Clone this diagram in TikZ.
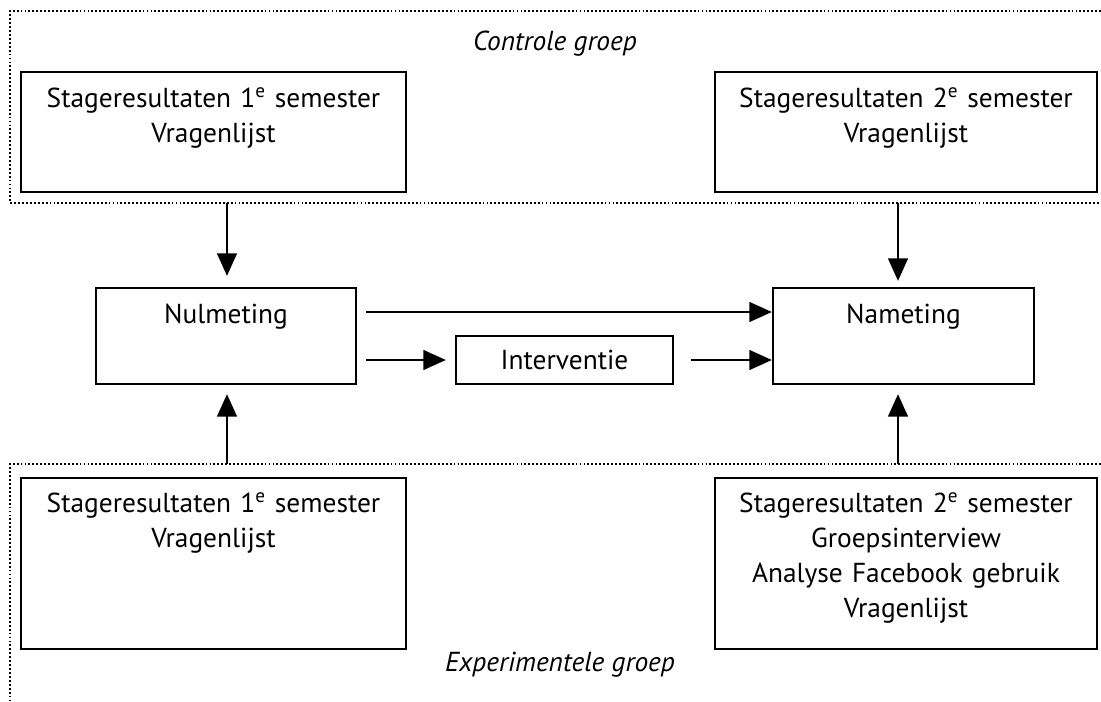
\documentclass[tikz,border=0pt]{standalone}
\usepackage{fontspec}
\setmainfont{PT Sans}
\usetikzlibrary{arrows.meta}

\tikzset{
    box/.style={draw, line width=1.6pt, inner sep=0pt},
    boxtext/.style={anchor=base, align=center, inner sep=0pt, text width=9cm,
        font=\fontsize{19.5}{24.9}\selectfont},
    groep/.style={font=\fontsize{19.5}{24}\selectfont\itshape},
    frame/.style={line width=1.4pt, dash pattern=on 1.3pt off 1.5pt},
}

\begin{document}
\begin{tikzpicture}[>={Triangle[length=16pt,width=14pt]}, line width=1.6pt]
        \useasboundingbox (0,0) rectangle (27.525,-17.55);

        % Controle groep (dotted frame, open at the right)
        \draw[frame] (27.525,-0.275) -- (0.25,-0.275) -- (0.25,-5.075) -- (27.525,-5.075);
        \node[groep] (ctrl) at (13.875,-1.1) {Controle groep};

        % Experimentele groep (dotted frame, open at right and bottom)
        \draw[frame] (27.525,-11.6) -- (0.25,-11.6) -- (0.25,-17.55);
        \node[groep] (exp) at (14.0,-16.625) {Experimentele groep};

        % Data boxes
        \node[box, minimum width=9.625cm, minimum height=3cm] (ctrlA) at (5.3375,-3.3) {};
        \node[box, minimum width=9.55cm, minimum height=3cm] (ctrlB) at (22.65,-3.3) {};
        \node[box, minimum width=9.625cm, minimum height=4.275cm] (expA) at (5.3375,-14.0875) {};
        \node[box, minimum width=9.55cm, minimum height=4.275cm] (expB) at (22.65,-14.0875) {};

        \node[boxtext] (ctrlAtxt) at ([yshift=-0.925cm]ctrlA.north) {Stageresultaten 1\textsuperscript{e} semester\\Vragenlijst};
        \node[boxtext] (ctrlBtxt) at ([yshift=-0.925cm]ctrlB.north) {Stageresultaten 2\textsuperscript{e} semester\\Vragenlijst};
        \node[boxtext] (expAtxt) at ([yshift=-0.9cm]expA.north) {Stageresultaten 1\textsuperscript{e} semester\\Vragenlijst};
        \node[boxtext] (expBtxt) at ([yshift=-0.9cm]expB.north) {Stageresultaten 2\textsuperscript{e} semester\\Groepsinterview\\Analyse Facebook gebruik\\Vragenlijst};

        % Measurements
        \node[box, minimum width=6.5cm, minimum height=2.4cm] (nul) at (5.65,-8.4) {};
        \node[box, minimum width=6.525cm, minimum height=2.4cm] (na) at (22.5875,-8.4) {};
        \node[box, minimum width=5.425cm, minimum height=1.2cm, font=\fontsize{19.5}{24}\selectfont] (int) at (14.1125,-9.0) {Interventie};
        \node[boxtext] (nultxt) at ([yshift=-0.925cm]nul.north) {Nulmeting};
        \node[boxtext] (natxt) at ([yshift=-0.925cm]na.north) {Nameting};

        % Arrows from the frames
        \coordinate (ctrlAout) at (5.675,-5.075);
        \coordinate (ctrlBout) at (22.45,-5.075);
        \coordinate (expAout) at (5.675,-11.6);
        \coordinate (expBout) at (22.45,-11.6);
        \draw[->, shorten >=0.275cm] (ctrlAout) -- (ctrlAout |- nul.north);
        \draw[->, shorten >=0.15cm] (ctrlBout) -- (ctrlBout |- na.north);
        \draw[->, shorten >=0.225cm] (expAout) -- (expAout |- nul.south);
        \draw[->, shorten >=0.225cm] (expBout) -- (expBout |- na.south);

        % Nulmeting to Nameting, with and without intervention
        \draw[->, shorten <=0.225cm] ([yshift=0.6cm]nul.east) -- ([yshift=0.6cm]na.west);
        \draw[->, shorten <=0.225cm, shorten >=0.225cm] ([yshift=-0.6cm]nul.east) -- (int.west);
        \draw[->, shorten <=0.425cm] (int.east) -- (int.east -| na.west);

\end{tikzpicture}
\end{document}
